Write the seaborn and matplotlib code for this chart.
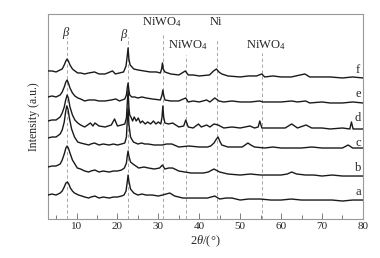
import matplotlib
matplotlib.use("Agg")
import matplotlib.pyplot as plt
import seaborn as sns

# stacked XRD patterns (2theta, intensity a.u.)
tt_a = [3, 4, 5, 6, 6.5, 7.0, 7.4, 7.8, 8.1, 8.5, 9.0, 9.5, 10.5, 11.3, 12, 13, 13.5, 14.5, 15.5,
        16.5, 18, 19, 20, 21, 21.6, 22.1, 22.4, 22.6, 22.8, 23.2, 24, 25, 26, 27, 28.5, 30, 31,
        32.8, 34, 35, 36, 38, 40, 42, 43.8, 45, 46.5, 48, 50, 52, 55, 57.5, 60, 62.5, 65, 67.5,
        70, 72.5, 75, 77.5, 80]
yy_a = [24, 25, 24, 26, 28, 32, 36, 37, 35, 31, 28, 26, 24, 23, 22, 21, 22, 23, 21,
        22, 21, 22, 22, 23, 24, 28, 37, 44, 38, 30, 26, 24, 25, 24, 24, 23, 24,
        26, 23, 22, 21, 21, 21, 21, 23, 20, 21, 21, 19, 20, 20, 19, 19, 20, 19, 19,
        19, 19, 18, 19, 19]

tt_b = [3, 4, 5, 6, 6.5, 7.0, 7.4, 7.7, 8.0, 8.4, 9.0, 9.6, 10.2, 11, 12, 13, 13.5, 14.5, 15.5,
        16.5, 18, 19, 20, 21, 21.7, 22.2, 22.4, 22.6, 22.8, 23.2, 23.8, 24.5, 25.2, 26.5, 27.6,
        29, 30.3, 31.0, 31.6, 32.5, 33.5, 35, 36.5, 38, 40, 41, 42.2, 43.6, 45, 47, 50, 52.5,
        55, 57.5, 60, 61.5, 62.6, 63.8, 66, 68, 70, 72.5, 75, 77.5, 80]
yy_b = [52, 53, 53, 55, 59, 65, 71, 73, 71, 66, 59, 55, 51, 50, 48, 47, 48, 49, 47,
        48, 47, 48, 48, 49, 51, 56, 63, 68, 63, 57, 55, 53, 51, 52, 51,
        50, 51, 54, 50, 51, 51, 48, 47, 46, 46, 46, 47, 50, 47, 45, 44, 45,
        44, 44, 44, 45, 47, 45, 44, 44, 43, 44, 43, 43, 43]

tt_c = [3, 4, 5, 6, 6.5, 7.0, 7.3, 7.6, 7.9, 8.3, 8.8, 9.5, 10.3, 11, 12, 13, 13.5, 14.4, 15.5,
        16.5, 18, 19, 20, 21, 21.8, 22.2, 22.4, 22.6, 22.8, 23.2, 23.9, 25, 25.9, 26.7, 27.5,
        29, 31, 32, 33.3, 35, 37.5, 40, 42, 42.8, 43.6, 44.2, 44.6, 45.0, 45.5, 47, 49, 50.5,
        51.2, 51.9, 52.6, 53.5, 56, 58, 60, 62.5, 65, 67.5, 70, 72.5, 75, 76.4, 77.5, 80]
yy_c = [81, 82, 82, 85, 89, 97, 106, 113, 110, 100, 90, 82, 77, 76, 75, 74, 75, 76, 74,
        75, 74, 75, 74, 75, 76, 82, 98, 111, 95, 82, 77, 75, 76, 75, 75,
        74, 74, 75, 75, 72, 73, 72, 72, 73, 76, 80, 82, 78, 74, 72, 72, 72,
        74, 76, 74, 72, 71, 72, 71, 71, 71, 72, 71, 71, 71, 74, 71, 71]

tt_d = [3, 4, 5, 6, 6.5, 7.0, 7.3, 7.7, 8.0, 8.4, 9, 9.6, 10.3, 11, 12, 13.4, 14, 14.5, 15.5,
        17, 18.5, 19.3, 20, 21, 21.8, 22.2, 22.4, 22.6, 22.8, 23.0, 23.3, 23.7, 24.1, 24.6,
        25.1, 25.6, 26.1, 26.8, 27.4, 28.1, 28.8, 29.4, 30, 30.6, 30.9, 31.1, 31.3, 31.6, 32.5,
        33.5, 35, 36.2, 36.7, 37.3, 38.5, 39.8, 40.5, 41.8, 42.6, 43.6, 44.6, 46, 48, 50, 52.4,
        53.5, 54.4, 54.8, 55.3, 58, 61, 62.6, 64, 66.1, 67.5, 70, 72, 75, 76.8, 77.2, 77.6, 80]
yy_d = [98, 99, 99, 102, 106, 112, 118, 124, 121, 112, 104, 99, 96, 94, 92, 96, 93, 96, 93,
        92, 94, 100, 93, 94, 95, 101, 115, 129, 112, 104, 102, 98, 102, 98,
        101, 96, 98, 95, 97, 95, 98, 95, 97, 95, 102, 113, 102, 96, 95,
        96, 92, 93, 99, 92, 91, 95, 92, 94, 92, 95, 94, 91, 92, 91, 93,
        91, 92, 98, 91, 91, 91, 95, 91, 94, 91, 91, 90, 91, 90, 97, 90, 90]

tt_e = [3, 4, 5, 6, 6.5, 7.0, 7.4, 7.7, 8.0, 8.4, 9, 9.6, 10.3, 11, 12, 13, 14.4, 15.5, 17,
        18.5, 19.6, 20.5, 21.8, 22.2, 22.4, 22.6, 22.8, 23.0, 23.5, 24.2, 25, 26, 27, 28.5,
        30.5, 30.9, 31.1, 31.3, 31.6, 33, 35, 36.7, 37.3, 38.5, 40, 41.8, 42.6, 43.8, 44.8,
        46, 48, 50, 52.5, 54.8, 55.5, 58, 60, 62.6, 64, 66, 67, 70, 72, 75, 77.5, 80]
yy_e = [122, 123, 122, 124, 127, 132, 137, 139, 136, 131, 126, 123, 121, 120, 118, 119, 119, 118, 118,
        119, 120, 118, 120, 124, 131, 136, 129, 124, 122, 122, 121, 122, 121, 120,
        119, 124, 129, 124, 119, 118, 118, 121, 117, 118, 117, 119, 117, 121, 118,
        117, 118, 117, 117, 118, 117, 117, 117, 118, 117, 118, 116, 117, 116, 116, 117, 116]

tt_f = [3, 4, 5, 6, 6.5, 7.0, 7.4, 7.7, 8.0, 8.4, 9, 9.6, 10.3, 11, 12, 13, 14.4, 15.5, 17,
        18.8, 19.5, 20.5, 21.5, 22.1, 22.4, 22.6, 22.8, 23.1, 24, 25, 26.5, 28, 29.5, 30.5,
        30.8, 31.0, 31.2, 31.6, 33, 35, 36.6, 37.3, 38.5, 40, 42.5, 43.5, 44.2, 44.8, 45.5,
        47, 50, 52, 54, 55.3, 56, 58, 60, 62.5, 65.8, 67, 70, 72, 75, 77.5, 80]
yy_f = [148, 148, 147, 149, 150, 154, 158, 160, 158, 154, 150, 148, 146, 146, 145, 146, 147, 145, 145,
        148, 145, 146, 147, 153, 163, 171, 160, 154, 150, 149, 148, 147, 147, 146,
        150, 156, 150, 147, 145, 144, 148, 144, 144, 143, 144, 148, 150, 147, 145,
        143, 142, 143, 143, 145, 142, 143, 142, 142, 145, 142, 142, 142, 141, 142, 141]

curves = [(tt_a, yy_a), (tt_b, yy_b), (tt_c, yy_c), (tt_d, yy_d), (tt_e, yy_e), (tt_f, yy_f)]
curve_labels = ["a", "b", "c", "d", "e", "f"]
label_y = [27, 51, 76, 101, 125, 149]

# reference positions (dashed lines) and the phase labels above them
ref_pos = [7.7, 22.6, 31.1, 36.7, 44.3, 55.3]
ref_top = [182, 182, 186, 164, 179, 166]
phase_text = [r"$\beta$", r"$\beta$", r"NiWO$_4$", r"NiWO$_4$", "Ni", r"NiWO$_4$"]
phase_x = [7.6, 21.6, 30.9, 37.2, 44.1, 56.3]
phase_y = [186, 184, 197, 174, 197, 174]

sns.set_style("ticks")
plt.rcParams["font.family"] = ["Liberation Serif", "DejaVu Serif"]
plt.rcParams["mathtext.fontset"] = "custom"
plt.rcParams["mathtext.rm"] = "Liberation Serif"
plt.rcParams["mathtext.it"] = "Liberation Serif:italic"

fig = plt.figure(figsize=(3.8, 2.58), dpi=100)
ax = fig.add_axes([0.126, 0.151, 0.829, 0.795])

for xpos, top in zip(ref_pos, ref_top):
    ax.plot([xpos, xpos], [0, top], color="#9a9a9a", lw=0.6, ls=(0, (4, 3)), zorder=1)

for (tt, yy), lab, ly in zip(curves, curve_labels, label_y):
    sns.lineplot(x=tt, y=yy, ax=ax, color="#1a1a1a", lw=1.0, zorder=3, sort=False)
    ax.text(78.8, ly, lab, ha="center", va="center", fontsize=9)

for txt, px, py in zip(phase_text, phase_x, phase_y):
    ax.text(px, py, txt, ha="center", va="center", fontsize=9)

ax.set_xlim(3, 80)
ax.set_ylim(0, 205)
ax.set_xticks([10, 20, 30, 40, 50, 60, 70, 80])
ax.set_xticks(range(5, 80, 10), minor=True)
ax.set_yticks([])
ax.tick_params(axis="x", which="both", direction="in", labelsize=8, color="#666666", pad=2)
ax.tick_params(axis="x", which="major", length=4, width=0.6)
ax.tick_params(axis="x", which="minor", length=3, width=0.6)
for sp in ax.spines.values():
    sp.set_color("#999999")
    sp.set_linewidth(0.8)

ax.set_xlabel(r"2$\theta$/(°)", fontsize=9, labelpad=2)
ax.set_ylabel("Intensity (a.u.)", fontsize=8.5, labelpad=6)

fig.savefig("out.png", dpi=100)
